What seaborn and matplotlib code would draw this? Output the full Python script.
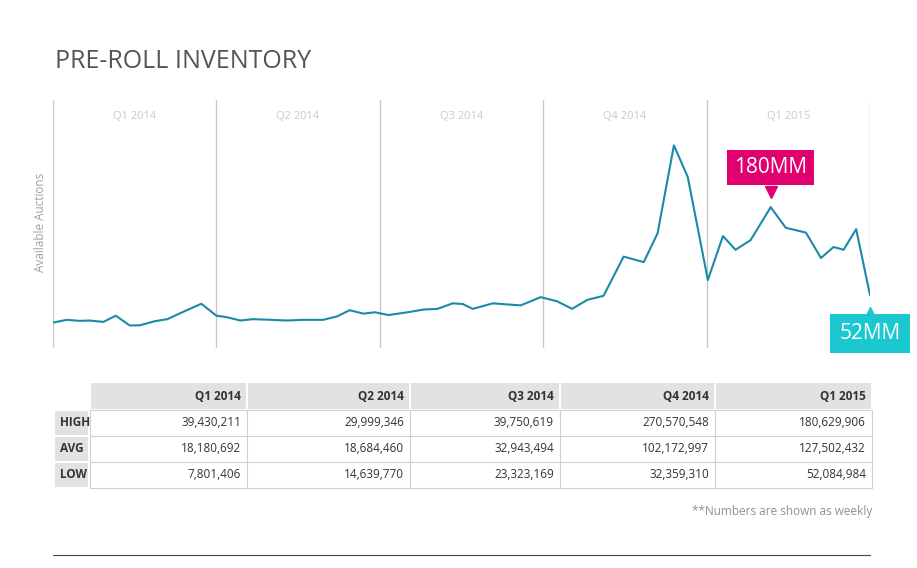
import matplotlib
matplotlib.use("Agg")
import matplotlib.pyplot as plt
import seaborn as sns
import pandas as pd
from matplotlib.patches import Rectangle
from matplotlib.lines import Line2D

sns.set_style("white")
plt.rcParams["font.family"] = ["Open Sans", "DejaVu Sans"]

# weekly series (week index, millions of available auctions)
weeks = [0, 1.1, 2.1, 2.9, 4.0, 5.0, 6.1, 6.9, 8.1, 9.1, 10.4, 11.8, 13.0, 13.8, 14.9,
         15.9, 17.3, 18.6, 19.9, 21.5, 22.6, 23.6, 24.7, 25.6, 26.7, 28.2, 29.5, 30.6,
         31.8, 32.6, 33.4, 35.0, 37.2, 38.8, 40.1, 41.3, 42.5, 43.8, 45.4, 47.0, 48.1,
         49.4, 50.5, 52.1, 53.3, 54.3, 55.5, 57.1, 58.3, 59.9, 61.1, 62.1, 62.9, 63.9, 65.0]
auctions = [12, 16, 14.5, 15, 13, 22, 7.8, 8, 14, 17, 28, 39.4, 22, 20, 15,
            17, 16, 15, 16, 16, 21, 30, 25, 27, 23, 27, 31, 32,
            40, 39, 32, 40, 37, 49, 43, 32, 45, 51, 108, 100, 142,
            270, 224, 74, 138, 118, 132, 180, 150, 143, 106, 122, 118, 148, 52]

quarters = ["Q1 2014", "Q2 2014", "Q3 2014", "Q4 2014", "Q1 2015"]
quarter_bounds = [0, 13, 26, 39, 52, 65]
row_labels = ["HIGH", "AVG", "LOW"]
high = ["39,430,211", "29,999,346", "39,750,619", "270,570,548", "180,629,906"]
avg = ["18,180,692", "18,684,460", "32,943,494", "102,172,997", "127,502,432"]
low = ["7,801,406", "14,639,770", "23,323,169", "32,359,310", "52,084,984"]

W, H = 917, 568
fig = plt.figure(figsize=(9.17, 5.68), dpi=100)


def fx(px):
    return px / W


def fy(py):
    return 1 - py / H


fig.text(fx(55), fy(62), "PRE-ROLL INVENTORY", fontsize=18, color="#555555", va="center")

ax = fig.add_axes([fx(53), fy(348), fx(870) - fx(53), fy(100) - fy(348)])
df = pd.DataFrame({"week": weeks, "value": auctions})
sns.lineplot(data=df, x="week", y="value", ax=ax, color="#1a8aa8", linewidth=1.5)
ax.set_xlim(0, 65)
ax.set_ylim(-25, 336)
for b in quarter_bounds:
    ax.axvline(b, color="#c8c8c8", linewidth=1, zorder=0)
for i, q in enumerate(quarters):
    ax.text((quarter_bounds[i] + quarter_bounds[i + 1]) / 2, 312, q, ha="center", va="center",
            fontsize=8, color="#c8c8d0")
for s in ax.spines.values():
    s.set_visible(False)
ax.set_xticks([])
ax.set_yticks([])
ax.set_xlabel("")
ax.set_ylabel("")
fig.text(fx(40), fy(222), "Available Auctions", rotation=90, fontsize=8.5, color="#a0a0a0",
         ha="center", va="center")

# callouts
peak_i = 47
ax.plot(weeks[peak_i], auctions[peak_i] + 22, marker="v", color="#e0006f", markersize=9)
ax.text(weeks[peak_i], auctions[peak_i] + 58, "180MM", ha="center", va="center", fontsize=15,
        color="white", bbox=dict(boxstyle="square,pad=0.35", fc="#e0006f", ec="none"))
ax.plot(weeks[-1], auctions[-1] - 26, marker="^", color="#1bc8d0", markersize=9, clip_on=False)
ax.text(weeks[-1], auctions[-1] - 56, "52MM", ha="center", va="center", fontsize=15,
        color="white", bbox=dict(boxstyle="square,pad=0.45", fc="#1bc8d0", ec="none"),
        clip_on=False)

# table
col_edges = [90, 247, 410, 560, 715, 872]
row_tops = [383, 410, 436, 462, 488]
for c in range(5):
    x0, x1 = col_edges[c], col_edges[c + 1]
    fig.patches.append(Rectangle((fx(x0 + 1), fy(row_tops[1] - 1)), fx(x1 - x0 - 2),
                                 fy(row_tops[0]) - fy(row_tops[1] - 1), transform=fig.transFigure,
                                 fc="#e2e2e4", ec="none"))
    fig.text(fx(x1 - 6), fy((row_tops[0] + row_tops[1]) / 2), quarters[c], ha="right",
             va="center", fontsize=8.5, fontweight="bold", color="#333333")
for r, (lab, vals) in enumerate(zip(row_labels, [high, avg, low])):
    y0, y1 = row_tops[r + 1], row_tops[r + 2]
    fig.patches.append(Rectangle((fx(55), fy(y1 - 1)), fx(33), fy(y0 + 1) - fy(y1 - 1),
                                 transform=fig.transFigure, fc="#e2e2e4", ec="none"))
    fig.text(fx(60), fy((y0 + y1) / 2), lab, ha="left", va="center", fontsize=8.5,
             fontweight="bold", color="#333333")
    for c, v in enumerate(vals):
        fig.text(fx(col_edges[c + 1] - 6), fy((y0 + y1) / 2), v, ha="right", va="center",
                 fontsize=8.5, color="#333333")
for y in row_tops[1:]:
    fig.lines.append(Line2D([fx(90), fx(872)], [fy(y), fy(y)], transform=fig.transFigure,
                            color="#d0d0d0", linewidth=0.8))
for x in col_edges:
    fig.lines.append(Line2D([fx(x), fx(x)], [fy(row_tops[1]), fy(row_tops[-1])],
                            transform=fig.transFigure, color="#d0d0d0", linewidth=0.8))

fig.text(fx(872), fy(511), "**Numbers are shown as weekly", ha="right", va="center",
         fontsize=8.5, color="#909090")
fig.lines.append(Line2D([fx(53), fx(870)], [fy(555), fy(555)], transform=fig.transFigure,
                        color="#444444", linewidth=0.8))

fig.savefig("out.png", dpi=100)
